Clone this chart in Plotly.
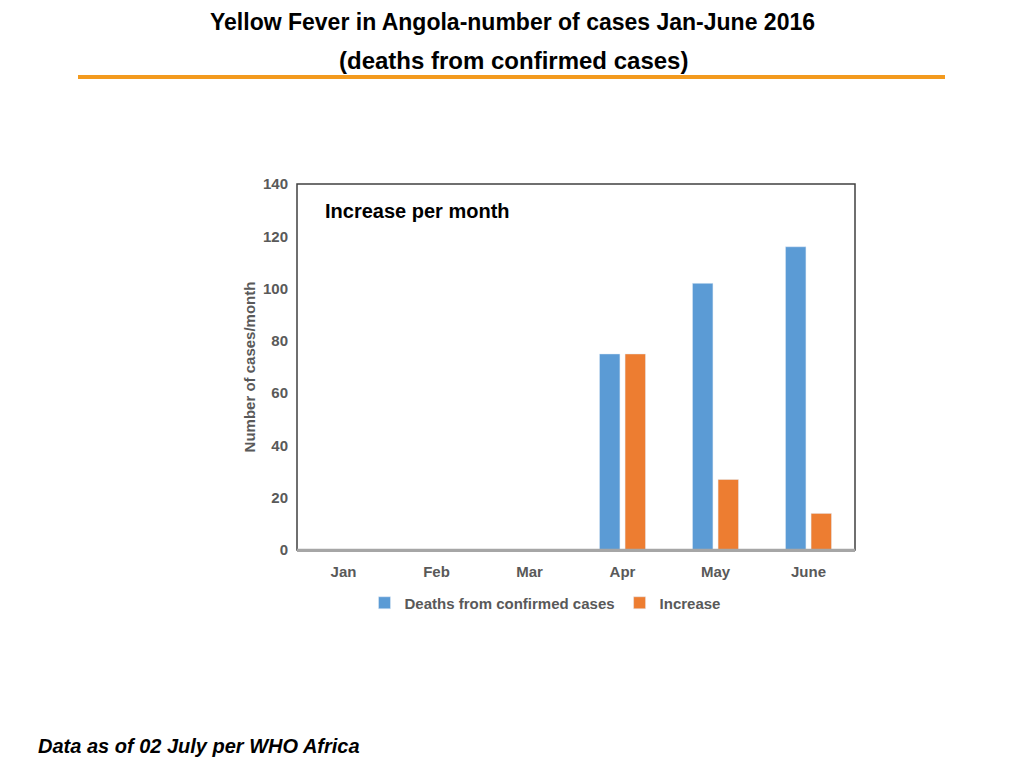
import plotly.graph_objects as go

# data
months = ["Jan", "Feb", "Mar", "Apr", "May", "June"]
deaths = [0, 0, 0, 75, 102, 116]
increase = [0, 0, 0, 75, 27, 14]

OFF = 8  # page body margin
W, H = 1024 - OFF, 768 - OFF
L, R, T, B = 297, 855, 184, 550  # plot area in page pixels


def px_x(x):
    return (x - L) / (R - L)


def px_y(y):
    return (B - y) / (B - T)


fig = go.Figure()
fig.add_trace(go.Bar(x=months, y=deaths, name="<b>Deaths from confirmed cases</b>",
                     marker_color="#5B9BD5"))
fig.add_trace(go.Bar(x=months, y=increase, name="<b>Increase</b>",
                     marker_color="#ED7D31"))

grey = "#595959"
fig.update_layout(
    width=W, height=H,
    margin=dict(l=L - OFF, r=1024 - R, t=T - OFF, b=768 - B),
    paper_bgcolor="white", plot_bgcolor="white",
    font=dict(family="Liberation Sans, Arial, sans-serif", color=grey),
    barmode="group", bargap=0.45, bargroupgap=0.2,
    showlegend=True,
    legend=dict(orientation="h", x=px_x(545), y=px_y(603), xanchor="center", yanchor="middle",
                font=dict(size=15, color=grey), itemwidth=30, traceorder="normal"),
    xaxis=dict(showgrid=False, showline=True, linecolor="#a6a6a6", linewidth=2,
               ticks="", tickfont=dict(size=15, color=grey, weight="bold"),
               ticklabelstandoff=7),
    yaxis=dict(range=[0, 140], dtick=20, showgrid=False, zeroline=False,
               showline=False, ticks="", tickfont=dict(size=15, color=grey, weight="bold"),
               ticklabelstandoff=8,
               title=dict(text="<b>Number of cases/month</b>", font=dict(size=15, color=grey),
                          standoff=3)),
)

# frame around the plot area
fig.add_shape(type="rect", xref="paper", yref="paper", x0=0, x1=1, y0=0, y1=1,
              line=dict(color="#404040", width=1.5), layer="above")
fig.add_shape(type="line", xref="paper", yref="paper", x0=0, x1=1, y0=0, y1=0,
              line=dict(color="#a6a6a6", width=2.5), layer="above")

# orange rule under the title
fig.add_shape(type="line", xref="paper", yref="paper",
              x0=px_x(78), x1=px_x(945), y0=px_y(77), y1=px_y(77),
              line=dict(color="#F39A1E", width=4))

fig.add_annotation(text="<b>Yellow Fever in Angola-number of cases Jan-June 2016</b>",
                   xref="paper", yref="paper", x=px_x(512), y=px_y(OFF),
                   showarrow=False, xanchor="center", yanchor="top", borderpad=0,
                   font=dict(size=23, color="black"))
fig.add_annotation(text="<b>(deaths from confirmed cases)</b>",
                   xref="paper", yref="paper", x=px_x(513), y=px_y(60),
                   showarrow=False, xanchor="center", yanchor="middle",
                   font=dict(size=24, color="black"))
fig.add_annotation(text="<b>Increase per month</b>",
                   xref="paper", yref="paper", x=px_x(323), y=px_y(211),
                   showarrow=False, xanchor="left", yanchor="middle",
                   font=dict(size=20, color="black"))
fig.add_annotation(text="<b><i>Data as of 02 July per WHO Africa</i></b>",
                   xref="paper", yref="paper", x=px_x(36), y=px_y(746),
                   showarrow=False, xanchor="left", yanchor="middle",
                   font=dict(size=20, color="black"))

fig.write_html("out.html")
